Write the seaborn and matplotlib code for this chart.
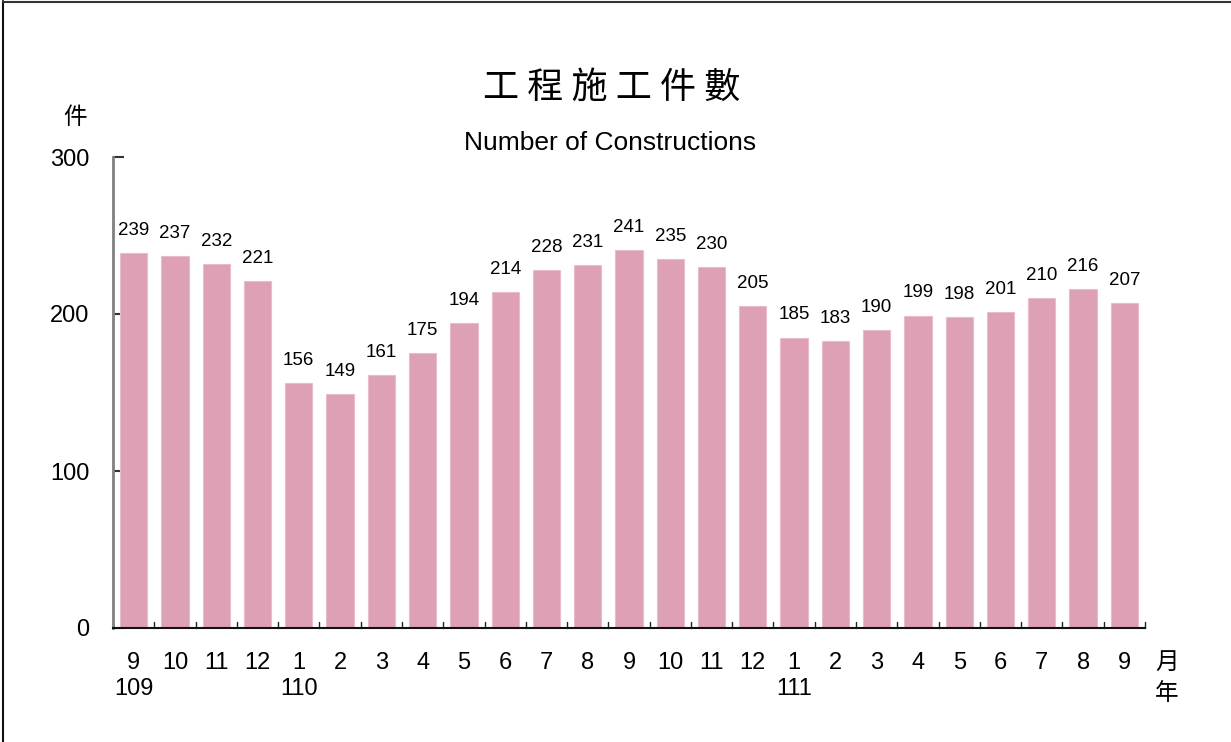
"""Number of constructions, monthly bar chart."""

import matplotlib

matplotlib.use("Agg")

import matplotlib.pyplot as plt
import matplotlib.transforms as mtransforms
from matplotlib.lines import Line2D
import pandas as pd
import seaborn as sns

months = [9, 10, 11, 12, 1, 2, 3, 4, 5, 6, 7, 8, 9, 10, 11, 12, 1, 2, 3, 4, 5, 6, 7, 8, 9]
years = ["109", "", "", "", "110", "", "", "", "", "", "", "", "", "", "", "", "111", "", "", "", "", "", "", "", ""]
counts = [239, 237, 232, 221, 156, 149, 161, 175, 194, 214, 228, 231, 241,
          235, 230, 205, 185, 183, 190, 199, 198, 201, 210, 216, 207]
y_ticks = [0, 100, 200, 300]

BAR = "#DDA0B5"
NUM_FONT = ["Liberation Sans Narrow", "Liberation Sans", "DejaVu Sans"]
CJK_FONT = ["Noto Sans CJK TC", "DejaVu Sans"]

sns.set_theme(style="white")
plt.rcParams["font.family"] = NUM_FONT
plt.rcParams["text.color"] = "black"
plt.rcParams["xtick.color"] = "black"
plt.rcParams["ytick.color"] = "black"

df = pd.DataFrame({"pos": range(len(counts)), "count": counts})

fig = plt.figure(figsize=(12.31, 7.42), dpi=100)
ax = fig.add_axes([113 / 1231, 1 - 628 / 742, (1145 - 113) / 1231, (628 - 157) / 742])

sns.barplot(data=df, x="pos", y="count", color=BAR, width=0.66, saturation=1,
            edgecolor="#E8BCCB", linewidth=0.8, ax=ax)

for i, v in enumerate(counts):
    ax.text(i, v + 9, str(v), ha="center", va="bottom", fontsize=13.5, color="black")

ax.set_xlim(-0.5, len(counts) - 0.5)
ax.set_ylim(0, 300)
ax.set_yticks(y_ticks)
ax.set_yticklabels([str(t) for t in y_ticks], fontsize=17)
ax.set_xticks(range(len(counts)))
ax.set_xticklabels([str(m) for m in months], fontsize=17)
ax.set_xlabel("")
ax.set_ylabel("")
ax.tick_params(axis="x", length=0, pad=17)
ax.tick_params(axis="y", direction="in", length=8, width=1.5, color="#333333", pad=17, left=True)

# boundary ticks on the x axis pointing up
for b in [i + 0.5 for i in range(-1, len(counts))]:
    ax.plot([b, b], [0, 4], color="#222222", lw=1, clip_on=False)

for s in ["top", "right"]:
    ax.spines[s].set_visible(False)
ax.spines["left"].set_color("#808080")
ax.spines["left"].set_linewidth(2)
ax.spines["bottom"].set_color("#111111")
ax.spines["bottom"].set_linewidth(1.5)

trans = mtransforms.blended_transform_factory(ax.transData, fig.transFigure)
for i, y in enumerate(years):
    if y:
        ax.text(i, 1 - 689 / 742, y, transform=trans, ha="center", va="center", fontsize=17)

fig.text(1167 / 1231, 1 - 662 / 742, "月", ha="center", va="center", fontsize=17, family=CJK_FONT)
fig.text(1167 / 1231, 1 - 693 / 742, "年", ha="center", va="center", fontsize=17, family=CJK_FONT)
fig.text(75 / 1231, 1 - 118 / 742, "件", ha="center", va="center", fontsize=17, family=CJK_FONT)

fig.text(612 / 1231, 1 - 88 / 742, "工 程 施 工 件 數", ha="center", va="center", fontsize=26, family=CJK_FONT)
fig.text(610 / 1231, 1 - 143 / 742, "Number of Constructions", ha="center", va="center", fontsize=19)

# frame lines along the top and left edges
fig.add_artist(Line2D([3 / 1231, 3 / 1231], [0, 1 - 1 / 742], transform=fig.transFigure, color="#111111", lw=1.5))
fig.add_artist(Line2D([3 / 1231, 1], [1 - 1.5 / 742, 1 - 1.5 / 742], transform=fig.transFigure, color="#333333", lw=1.5))

fig.savefig("out.png", dpi=100)
plt.close(fig)
